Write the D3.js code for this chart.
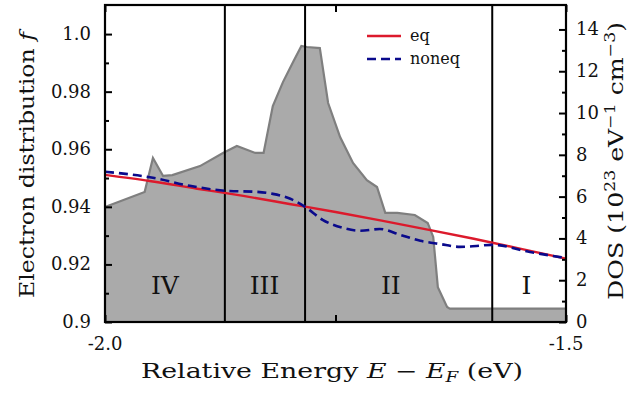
<!DOCTYPE html>
<html>
<head>
<meta charset="UTF-8" />
<title>DOS and electron distribution</title>
<script src="https://d3js.org/d3.v7.min.js"></script>
<style>
    body { margin: 0; background: #fff; }
    text { font-family: "DejaVu Serif", "Liberation Serif", serif; fill: #111; }
</style>
</head>
<body>
<svg id="chart" width="644" height="399"></svg>
<script>
// energy grid for the equilibrium curve (eV)
var eqEnergy = [-2.0, -1.95, -1.9, -1.85, -1.8, -1.75, -1.7, -1.65, -1.6, -1.55, -1.5];
var eqF = [0.9511, 0.9489, 0.9463, 0.9438, 0.9410, 0.9382, 0.9352, 0.9321, 0.9289, 0.9255, 0.9220];

// nonequilibrium distribution
var noneqEnergy = [-2.0, -1.948, -1.908, -1.870, -1.835, -1.818, -1.799, -1.783, -1.764, -1.742,
    -1.723, -1.702, -1.680, -1.658, -1.637, -1.615, -1.597, -1.580, -1.539, -1.5];
var noneqF = [0.9522, 0.9501, 0.9473, 0.9456, 0.9452, 0.9445, 0.9428, 0.9400, 0.9355, 0.9327,
    0.9317, 0.9323, 0.9303, 0.9282, 0.9271, 0.9261, 0.9264, 0.9268, 0.9243, 0.9222];

// density of states (10^23 eV^-1 cm^-3)
var dosEnergy = [-2.0, -1.957, -1.948, -1.937, -1.927, -1.897, -1.872, -1.857, -1.837, -1.828,
    -1.818, -1.807, -1.796, -1.787, -1.781, -1.767, -1.758, -1.745, -1.731, -1.716,
    -1.705, -1.696, -1.683, -1.664, -1.650, -1.644, -1.639, -1.629, -1.626, -1.5];
var dosValue = [5.50, 6.22, 7.85, 6.99, 7.03, 7.46, 8.09, 8.42, 8.09, 8.09,
    10.33, 11.48, 12.44, 13.21, 13.16, 13.11, 10.48, 8.85, 7.61, 6.79,
    6.46, 5.22, 5.22, 5.12, 4.74, 4.07, 1.67, 0.72, 0.64, 0.64];

// region boundaries and labels
var boundaries = [-1.870, -1.783, -1.580];
var regionNames = ["IV", "III", "II", "I"];
var regionCenters = [-1.935, -1.827, -1.690, -1.543];

var fTicks = [0.9, 0.92, 0.94, 0.96, 0.98, 1.0];
var fTickLabels = ["0.9", "0.92", "0.94", "0.96", "0.98", "1.0"];
var dosTicks = [0, 2, 4, 6, 8, 10, 12, 14];
var xTicks = [-2.0, -1.75, -1.5];
var xTickLabels = ["-2.0", "", "-1.5"];

var svg = d3.select("#chart");
var pLeft = 105, pRight = 566, pTop = 5, pBottom = 322;

var x = d3.scaleLinear().domain([-2.0, -1.5]).range([pLeft, pRight]);
var yF = d3.scaleLinear().domain([0.9, 1.0101]).range([pBottom, pTop]);
var yD = d3.scaleLinear().domain([0, 15.17]).range([pBottom, pTop]);

// DOS area
var dosPts = dosEnergy.map(function (e, i) { return [e, dosValue[i]]; });
svg.append("path")
    .datum(dosPts)
    .attr("d", d3.area().x(function (d) { return x(d[0]); }).y0(yD(0)).y1(function (d) { return yD(d[1]); }))
    .attr("fill", "#aaaaaa");
svg.append("path")
    .datum(dosPts)
    .attr("d", d3.line().x(function (d) { return x(d[0]); }).y(function (d) { return yD(d[1]); }))
    .attr("fill", "none")
    .attr("stroke", "#7f7f7f")
    .attr("stroke-width", 2.2);

// region boundaries
svg.selectAll(".bound").data(boundaries).enter().append("line")
    .attr("x1", function (d) { return x(d); }).attr("x2", function (d) { return x(d); })
    .attr("y1", pTop).attr("y2", pBottom)
    .attr("stroke", "#000").attr("stroke-width", 2);

svg.selectAll(".region").data(regionNames).enter().append("text")
    .attr("x", function (d, i) { return x(regionCenters[i]); })
    .attr("y", 294)
    .attr("text-anchor", "middle")
    .attr("font-size", 25)
    .text(function (d) { return d; });

// distribution curves
var eqPts = eqEnergy.map(function (e, i) { return [e, eqF[i]]; });
var noneqPts = noneqEnergy.map(function (e, i) { return [e, noneqF[i]]; });
var fLine = d3.line().curve(d3.curveMonotoneX)
    .x(function (d) { return x(d[0]); }).y(function (d) { return yF(d[1]); });

svg.append("path").datum(eqPts).attr("d", fLine)
    .attr("fill", "none").attr("stroke", "#dc1a2c").attr("stroke-width", 2.4);
svg.append("path").datum(noneqPts).attr("d", fLine)
    .attr("fill", "none").attr("stroke", "#0a0a8c").attr("stroke-width", 2.6)
    .attr("stroke-dasharray", "9,5");

// axes (ticks inward)
var minorF = d3.range(0.91, 1.01, 0.02);
var gL = svg.append("g").attr("transform", "translate(" + pLeft + ",0)");
gL.call(d3.axisRight(yF).tickValues(fTicks).tickSize(7).tickFormat(""));
gL.append("g").call(d3.axisRight(yF).tickValues(minorF).tickSize(4).tickFormat(""));
var gR = svg.append("g").attr("transform", "translate(" + pRight + ",0)");
gR.call(d3.axisLeft(yD).tickValues(dosTicks).tickSize(7).tickFormat(""));
gR.append("g").call(d3.axisLeft(yD).tickValues(d3.range(1, 15, 2)).tickSize(4).tickFormat(""));
svg.append("g").attr("transform", "translate(0," + pBottom + ")")
    .call(d3.axisTop(x).tickValues(xTicks).tickSize(7).tickFormat(""));
svg.append("g").attr("transform", "translate(0," + pTop + ")")
    .call(d3.axisBottom(x).tickValues(xTicks).tickSize(7).tickFormat(""));
svg.selectAll(".domain").remove();
svg.selectAll(".tick line").attr("stroke", "#000").attr("stroke-width", 2);

// frame
svg.append("rect").attr("x", pLeft).attr("y", pTop)
    .attr("width", pRight - pLeft).attr("height", pBottom - pTop)
    .attr("fill", "none").attr("stroke", "#000").attr("stroke-width", 2.2);

// tick labels
svg.selectAll(".fl").data(fTicks).enter().append("text")
    .attr("x", 91).attr("y", function (d) { return yF(d) + 6; })
    .attr("text-anchor", "end").attr("font-size", 18)
    .text(function (d, i) { return fTickLabels[i]; });
svg.selectAll(".dl").data(dosTicks).enter().append("text")
    .attr("x", 576).attr("y", function (d) { return yD(d) + 6; })
    .attr("font-size", 18)
    .text(function (d) { return d; });
svg.selectAll(".xl").data(xTicks).enter().append("text")
    .attr("x", function (d) { return x(d); }).attr("y", 350)
    .attr("text-anchor", "middle").attr("font-size", 18)
    .text(function (d, i) { return xTickLabels[i]; });

// axis titles (stretched to the width of the original serif)
svg.append("text").attr("transform", "translate(34,165) rotate(-90)")
    .attr("text-anchor", "middle").attr("font-size", 20.5)
    .attr("textLength", 266).attr("lengthAdjust", "spacingAndGlyphs")
    .html('Electron distribution <tspan font-style="italic">f</tspan>');
svg.append("text").attr("transform", "translate(623,161) rotate(-90)")
    .attr("text-anchor", "middle").attr("font-size", 20.5)
    .attr("textLength", 278).attr("lengthAdjust", "spacingAndGlyphs")
    .html('DOS (10<tspan dy="-8" font-size="14">23</tspan><tspan dy="8"> eV</tspan><tspan dy="-8" font-size="14">\u22121</tspan><tspan dy="8"> cm</tspan><tspan dy="-8" font-size="14">\u22123</tspan><tspan dy="8">)</tspan>');
svg.append("text").attr("x", 332).attr("y", 378)
    .attr("text-anchor", "middle").attr("font-size", 20.5)
    .attr("textLength", 382).attr("lengthAdjust", "spacingAndGlyphs")
    .html('Relative Energy <tspan font-style="italic">E</tspan> \u2212 <tspan font-style="italic">E</tspan><tspan font-style="italic" font-size="14" dy="4">F</tspan><tspan dy="-4"> (eV)</tspan>');

// legend
var legend = [{ name: "eq", color: "#dc1a2c", dash: null }, { name: "noneq", color: "#0a0a8c", dash: "9,5" }];
var lg = svg.selectAll(".lg").data(legend).enter().append("g")
    .attr("transform", function (d, i) { return "translate(367," + (36 + i * 23) + ")"; });
lg.append("line").attr("x1", 0).attr("x2", 34)
    .attr("stroke", function (d) { return d.color; }).attr("stroke-width", 2.4)
    .attr("stroke-dasharray", function (d) { return d.dash; });
lg.append("text").attr("x", 43).attr("y", 5).attr("font-size", 16)
    .text(function (d) { return d.name; });
</script>
</body>
</html>
